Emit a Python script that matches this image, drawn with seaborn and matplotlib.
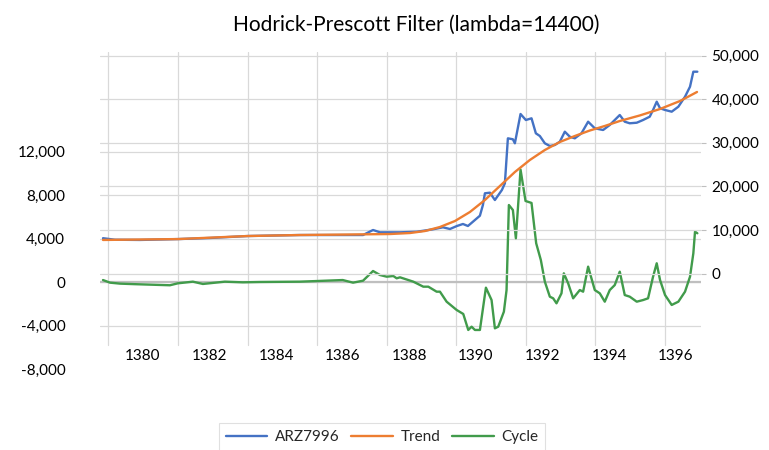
import matplotlib
matplotlib.use("Agg")
import matplotlib.pyplot as plt
import seaborn as sns
import numpy as np

# Dados (anos no calendário persa, valores aproximados)
arz_x = [1378.80, 1379.16, 1379.91, 1381.05, 1382.01, 1383.15, 1384.71, 1385.92, 1386.61,
         1386.91, 1387.12, 1387.72, 1388.23, 1388.71, 1389.01, 1389.22, 1389.43, 1389.61,
         1389.76, 1389.91, 1390.12, 1390.21, 1390.27, 1390.42, 1390.57, 1390.78, 1390.87,
         1390.96, 1391.11, 1391.17, 1391.34, 1391.50, 1391.67, 1391.80, 1391.92, 1392.07,
         1392.22, 1392.37, 1392.52, 1392.67, 1392.82, 1392.97, 1393.17, 1393.37, 1393.57,
         1393.82, 1394.02, 1394.32, 1394.47, 1394.62, 1394.83, 1395.02, 1395.22, 1395.32,
         1395.43, 1395.53, 1395.68, 1395.88, 1396.08, 1396.28, 1396.43, 1396.53, 1396.65]
arz_y = [8100, 7750, 7700, 7900, 8150, 8600, 8830, 8830, 8830,
         9980, 9450, 9450, 9590, 10140, 10600, 10210, 10900, 11360,
         10900, 11880, 13260, 15710, 18400, 18540, 16860, 19150, 20690,
         31010, 30790, 29870, 36590, 35210, 35600, 32160, 31540, 29870,
         29250, 29480, 30230, 32530, 31380, 31010, 32160, 34820, 33310,
         32920, 34070, 36360, 34820, 34460, 34590, 35210, 35970, 37510,
         39410, 37900, 37510, 37120, 38260, 40560, 42850, 46290, 46290]

trend_x = [1378.80, 1381.05, 1383.15, 1384.71, 1386.22, 1387.42, 1388.02, 1388.47, 1388.92,
           1389.37, 1389.82, 1390.27, 1390.72, 1391.17, 1391.62, 1392.07, 1392.52, 1392.97,
           1393.42, 1393.87, 1394.32, 1394.92, 1395.53, 1396.13, 1396.64]
trend_y = [7700, 7900, 8600, 8830, 8950, 9060, 9290, 9750, 10670,
           12040, 14110, 16860, 20070, 23280, 26040, 28330, 30170, 31540,
           32800, 33840, 34980, 36250, 37740, 39570, 41640]

cycle_x = [1378.80, 1379.01, 1379.31, 1379.76, 1380.81, 1381.05, 1381.50, 1381.80, 1382.46,
           1383.00, 1383.51, 1384.71, 1386.00, 1386.31, 1386.61, 1386.91, 1387.12, 1387.32,
           1387.52, 1387.62, 1387.72, 1388.12, 1388.42, 1388.57, 1388.82, 1388.92, 1389.12,
           1389.42, 1389.62, 1389.77, 1389.87, 1389.97, 1390.12, 1390.30, 1390.47, 1390.57,
           1390.67, 1390.84, 1390.92, 1390.99, 1391.11, 1391.20, 1391.34, 1391.49, 1391.67,
           1391.81, 1391.95, 1392.07, 1392.22, 1392.32, 1392.42, 1392.57, 1392.64, 1392.77,
           1392.92, 1393.12, 1393.22, 1393.37, 1393.57, 1393.72, 1393.87, 1394.02, 1394.17,
           1394.32, 1394.47, 1394.62, 1394.83, 1395.02, 1395.17, 1395.32, 1395.43, 1395.53,
           1395.68, 1395.88, 1396.08, 1396.28, 1396.43, 1396.53, 1396.58, 1396.65]
cycle_y = [180, -60, -150, -200, -300, -120, 30, -180, 30,
           -30, 0, 30, 180, -60, 120, 1010, 640, 490,
           550, 340, 430, 30, -430, -430, -890, -890, -1810,
           -2570, -2940, -4410, -4110, -4410, -4410, -520, -1660, -4260,
           -4110, -2730, -740, 7080, 6620, 4020, 10340, 7450, 7270,
           3560, 2020, 30, -1350, -1500, -1960, -1040, 800, -120,
           -1500, -740, -890, 1410, -740, -1040, -1810, -740, -280,
           950, -1200, -1350, -1810, -1660, -1500, 490, 1720, 180,
           -1200, -2110, -1810, -890, 490, 2640, 4630, 4480]

year_ticks = [1380, 1382, 1384, 1386, 1388, 1390, 1392, 1394, 1396]
left_ticks = [-8000, -4000, 0, 4000, 8000, 12000]
right_ticks = [0, 10000, 20000, 30000, 40000, 50000]

BLUE = "#4472C4"
ORANGE = "#ED7D31"
GREEN = "#419B4B"
GRID = "#D9D9D9"


def fmt(v):
    return f"{int(v):,}"


def main():
    sns.set_theme(style="white")
    plt.rcParams["font.family"] = ["Lato", "DejaVu Sans"]

    fig = plt.figure(figsize=(7.69, 4.5), dpi=100)
    # área do gráfico (px): x 100..701, y 52..371
    ax = fig.add_axes([100 / 769, 1 - 371 / 450, 601 / 769, 319 / 450])
    ax2 = ax.twinx()

    # eixo principal: ciclo
    ax.set_xlim(1378.71, 1396.76)
    ax.set_ylim(-8184, 21150)
    ax.set_yticks(left_ticks)
    ax.set_yticklabels([fmt(v) for v in left_ticks])
    ax.set_xticks(year_ticks)
    ax.set_xticklabels([str(y) for y in year_ticks])
    ax.grid(axis="y", color=GRID, lw=0.9)
    ax.yaxis.get_gridlines()[0].set_visible(False)
    # linhas verticais da grade (intervalo próprio do Excel, ~25 meses)
    for gx in np.linspace(1378.96, 1395.68, 9):
        ax.axvline(gx, ymin=0.08, ymax=1, color=GRID, lw=0.9, zorder=0)
    ax.axhline(0, color="#BFBFBF", lw=1.6, zorder=1)
    sns.lineplot(x=cycle_x, y=cycle_y, ax=ax, color=GREEN, lw=1.7, label="Cycle", legend=False, zorder=3)

    # eixo secundário: série e tendência
    ax2.set_ylim(-22360, 50810)
    ax2.set_yticks(right_ticks)
    ax2.set_yticklabels([fmt(v) for v in right_ticks])
    ax2.grid(axis="y", color=GRID, lw=0.9)
    ax2.set_axisbelow(True)
    sns.lineplot(x=arz_x, y=arz_y, ax=ax2, color=BLUE, lw=1.7, label="ARZ7996", legend=False, zorder=3)
    sns.lineplot(x=trend_x, y=trend_y, ax=ax2, color=ORANGE, lw=1.7, label="Trend", legend=False, zorder=4)

    for a in (ax, ax2):
        for s in a.spines.values():
            s.set_visible(False)
        a.set_xlabel("")
        a.set_ylabel("")
    ax.tick_params(axis="y", length=0, pad=25, labelsize=11, labelcolor="black")
    ax.tick_params(axis="x", length=0, pad=-15.5, labelsize=11, labelcolor="black")
    ax2.tick_params(axis="y", length=3.5, width=0.8, color="#BFBFBF", pad=4, labelsize=11, labelcolor="black")

    fig.text(416 / 769, 1 - 25 / 450, "Hodrick-Prescott Filter (lambda=14400)",
             ha="center", va="center", fontsize=15, color="black")

    h1, l1 = ax2.get_legend_handles_labels()
    h2, l2 = ax.get_legend_handles_labels()
    leg = fig.legend(h1 + h2, l1 + l2, loc="center", bbox_to_anchor=(382 / 769, 1 - 437 / 450),
                     ncol=3, frameon=True, fancybox=False, edgecolor=GRID, fontsize=11,
                     handlelength=2.7, handletextpad=0.5, columnspacing=0.8, borderpad=0.45)
    leg.get_frame().set_linewidth(0.8)

    fig.savefig("out.png", dpi=100)


if __name__ == "__main__":
    main()
